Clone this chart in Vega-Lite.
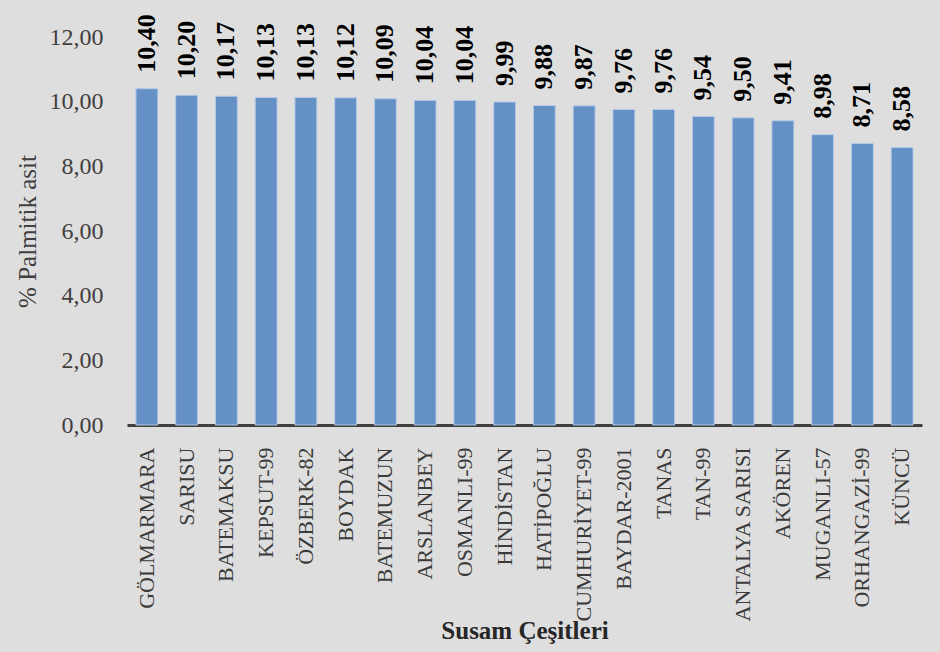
{
  "$schema": "https://vega.github.io/schema/vega-lite/v6.json",
  "width": 795,
  "height": 388,
  "autosize": "none",
  "padding": {"left": 127, "top": 37, "right": 18, "bottom": 227},
  "background": "#dedede",
  "config": {
    "view": {"stroke": null},
    "locale": {"number": {"decimal": ",", "thousands": ".", "grouping": [3], "currency": ["", " ₺"]}},
    "font": "Liberation Serif"
  },
  "data": {
    "values": [
      {"cesit": "GÖLMARMARA", "deger": 10.40},
      {"cesit": "SARISU", "deger": 10.20},
      {"cesit": "BATEMAKSU", "deger": 10.17},
      {"cesit": "KEPSUT-99", "deger": 10.13},
      {"cesit": "ÖZBERK-82", "deger": 10.13},
      {"cesit": "BOYDAK", "deger": 10.12},
      {"cesit": "BATEMUZUN", "deger": 10.09},
      {"cesit": "ARSLANBEY", "deger": 10.04},
      {"cesit": "OSMANLI-99", "deger": 10.04},
      {"cesit": "HİNDİSTAN", "deger": 9.99},
      {"cesit": "HATİPOĞLU", "deger": 9.88},
      {"cesit": "CUMHURİYET-99", "deger": 9.87},
      {"cesit": "BAYDAR-2001", "deger": 9.76},
      {"cesit": "TANAS", "deger": 9.76},
      {"cesit": "TAN-99", "deger": 9.54},
      {"cesit": "ANTALYA SARISI", "deger": 9.50},
      {"cesit": "AKÖREN", "deger": 9.41},
      {"cesit": "MUGANLI-57", "deger": 8.98},
      {"cesit": "ORHANGAZİ-99", "deger": 8.71},
      {"cesit": "KÜNCÜ", "deger": 8.58}
    ]
  },
  "encoding": {
    "x": {
      "field": "cesit",
      "type": "nominal",
      "sort": null,
      "scale": {"paddingInner": 0.45, "paddingOuter": 0.225},
      "axis": {
        "title": "Susam Çeşitleri",
        "titleFont": "Liberation Serif",
        "titleFontSize": 25,
        "titleFontWeight": "bold",
        "titleColor": "#262626",
        "titleY": 205,
        "titleBaseline": "middle",
        "labelAngle": -90,
        "labelAlign": "right",
        "labelBaseline": "middle",
        "labelFont": "Liberation Serif",
        "labelFontSize": 22,
        "labelColor": "#3a3a3a",
        "labelPadding": 22,
        "ticks": false,
        "domainColor": "#404040",
        "domainWidth": 3,
        "labelOverlap": false,
        "labelLimit": 300
      }
    },
    "y": {
      "field": "deger",
      "type": "quantitative",
      "scale": {"domain": [0, 12]},
      "axis": {
        "title": "% Palmitik asit",
        "titleFont": "Liberation Serif",
        "titleFontSize": 25,
        "titleFontWeight": "normal",
        "titleColor": "#404040",
        "titlePadding": 9,
        "values": [0, 2, 4, 6, 8, 10, 12],
        "format": ".2f",
        "labelFont": "Liberation Serif",
        "labelFontSize": 24,
        "labelColor": "#404040",
        "labelPadding": 24,
        "ticks": false,
        "domain": false,
        "grid": false
      }
    }
  },
  "layer": [
    {
      "mark": {"type": "bar", "fill": "#6590C6", "stroke": "#B4CAE6", "strokeWidth": 1}
    },
    {
      "mark": {
        "type": "text",
        "angle": 270,
        "align": "left",
        "baseline": "middle",
        "dx": 16,
        "font": "Liberation Serif",
        "fontSize": 26,
        "fontWeight": "bold",
        "color": "#000000"
      },
      "encoding": {
        "text": {"field": "deger", "type": "quantitative", "format": ".2f"}
      }
    }
  ]
}
